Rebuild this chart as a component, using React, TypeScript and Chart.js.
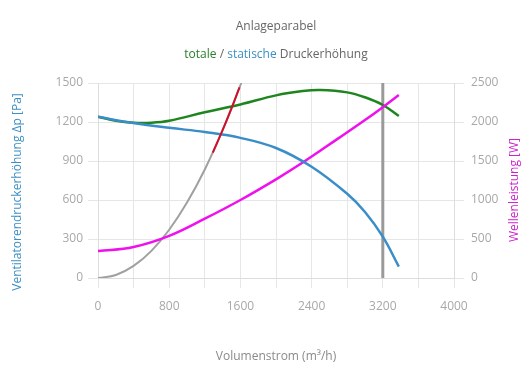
import React, { useEffect, useRef } from "react";
import { Chart, registerables } from "chart.js";

Chart.register(...registerables);

const titleText = "Anlageparabel";
const subtitleParts = [
  { text: "totale", color: "#2a7d2a" },
  { text: " / ", color: "#666666" },
  { text: "statische", color: "#3d8fc4" },
  { text: " Druckerhöhung", color: "#666666" },
];
const xTitle = "Volumenstrom (m³/h)";
const yTitle = "Ventilatorendruckerhöhung Δp [Pa]";
const y2Title = "Wellenleistung [W]";

const staticQ = [0, 400, 800, 1200, 1600, 2000, 2400, 2800, 3000, 3200, 3380];
const staticP = [1240, 1192, 1155, 1123, 1078, 1000, 856, 648, 508, 318, 88];

const totalQ = [0, 200, 400, 600, 800, 1200, 1600, 2000, 2300, 2500, 2800, 3000, 3200, 3380];
const totalP = [1240, 1210, 1195, 1195, 1210, 1275, 1335, 1405, 1438, 1446, 1428, 1390, 1331, 1246];

const powerQ = [0, 400, 800, 1200, 1600, 2000, 2300, 2700, 3000, 3200, 3380];
const powerW = [345, 398, 540, 760, 1000, 1265, 1480, 1790, 2025, 2190, 2346];

const systemQ = [0, 200, 400, 600, 800, 1000, 1200, 1400, 1610];
const systemP = [0, 23, 93, 209, 371, 580, 835, 1137, 1500];

const operatingQ = [1290, 1400, 1500, 1590];
const operatingP = [965, 1137, 1305, 1466];

const markerQ = [3200, 3200];
const markerP = [0, 1500];

const zip = (xs: number[], ys: number[]) => xs.map((x, i) => ({ x, y: ys[i] }));

const FONT = "'Open Sans', 'Noto Sans', sans-serif";

const textPlugin = {
  id: "customText",
  afterDraw(chart: any) {
    const { ctx, chartArea } = chart;
    const cx = (chartArea.left + chartArea.right) / 2;
    ctx.save();
    ctx.font = `12px ${FONT}`;
    ctx.textBaseline = "middle";
    ctx.textAlign = "center";
    ctx.fillStyle = "#666666";
    ctx.fillText(titleText, cx, 19);

    ctx.textAlign = "left";
    const widths = subtitleParts.map((p) => ctx.measureText(p.text).width);
    const total = widths.reduce((a, b) => a + b, 0);
    let x = cx - total / 2;
    subtitleParts.forEach((p, i) => {
      ctx.fillStyle = p.color;
      ctx.fillText(p.text, x, 47);
      x += widths[i];
    });

    ctx.textAlign = "center";
    ctx.fillStyle = "#8a8a8a";
    ctx.fillText(xTitle, cx, 349);

    ctx.save();
    ctx.translate(10, 184);
    ctx.rotate(-Math.PI / 2);
    ctx.fillStyle = "#3d8fc4";
    ctx.fillText(yTitle, 0, 0);
    ctx.restore();

    ctx.save();
    ctx.translate(507, 182);
    ctx.rotate(-Math.PI / 2);
    ctx.fillStyle = "#cc22cc";
    ctx.fillText(y2Title, 0, 0);
    ctx.restore();

    ctx.restore();
  },
};

export default function App() {
  const ref = useRef<HTMLCanvasElement | null>(null);

  useEffect(() => {
    if (!ref.current) return;
    const gridColor = "#e6e6e6";
    const tickFont = { family: FONT, size: 12 };
    const tickColor = "#a8a8a8";
    const chart = new Chart(ref.current, {
      type: "line",
      data: {
        datasets: [
          {
            label: "marker",
            data: zip(markerQ, markerP),
            borderColor: "#9a9a9a",
            borderWidth: 3,
            pointRadius: 0,
            yAxisID: "y",
            order: 6,
          },
          {
            label: "system",
            data: zip(systemQ, systemP),
            borderColor: "#a0a0a0",
            borderWidth: 2,
            pointRadius: 0,
            tension: 0.4,
            yAxisID: "y",
            order: 5,
          },
          {
            label: "operating",
            data: zip(operatingQ, operatingP),
            borderColor: "#d0102a",
            borderWidth: 2,
            pointRadius: 0,
            tension: 0.4,
            yAxisID: "y",
            order: 1,
          },
          {
            label: "total",
            data: zip(totalQ, totalP),
            borderColor: "#1f861f",
            borderWidth: 2.5,
            pointRadius: 0,
            tension: 0.4,
            yAxisID: "y",
            order: 3,
          },
          {
            label: "static",
            data: zip(staticQ, staticP),
            borderColor: "#3a8ec8",
            borderWidth: 2.5,
            pointRadius: 0,
            tension: 0.4,
            yAxisID: "y",
            order: 2,
          },
          {
            label: "power",
            data: zip(powerQ, powerW),
            borderColor: "#ee11ee",
            borderWidth: 2.5,
            pointRadius: 0,
            tension: 0.4,
            yAxisID: "y2",
            order: 2,
          },
        ],
      },
      options: {
        animation: false,
        responsive: false,
        layout: { padding: { top: 75, left: 0, right: 0, bottom: 0 } },
        plugins: {
          legend: { display: false },
          title: { display: false },
          tooltip: { enabled: false },
        },
        scales: {
          x: {
            type: "linear",
            min: 0,
            max: 4000,
            ticks: {
              stepSize: 400,
              autoSkip: false,
              maxRotation: 0,
              color: tickColor,
              font: tickFont,
              padding: 11,
              callback: (v: any) => (Number(v) % 800 === 0 ? String(v) : ""),
            },
            grid: { color: gridColor, tickLength: 10 },
            border: { color: "#dddddd" },
            afterFit: (s: any) => {
              s.height = 104;
            },
          },
          y: {
            type: "linear",
            position: "left",
            min: 0,
            max: 1500,
            ticks: {
              stepSize: 300,
              color: tickColor,
              font: tickFont,
              padding: 5,
              callback: (v: any) => String(v),
            },
            grid: { color: gridColor, tickLength: 10 },
            border: { color: "#dddddd" },
            afterFit: (s: any) => {
              s.width = 90;
            },
          },
          y2: {
            type: "linear",
            position: "right",
            min: 0,
            max: 2500,
            ticks: {
              stepSize: 500,
              color: tickColor,
              font: tickFont,
              padding: 7,
              callback: (v: any) => String(v),
            },
            grid: { color: gridColor, tickLength: 10, drawOnChartArea: false },
            border: { color: "#dddddd" },
            afterFit: (s: any) => {
              s.width = 68;
            },
          },
        },
      } as any,
      plugins: [textPlugin],
    });
    return () => chart.destroy();
  }, []);

  return (
    <div style={{ width: 514, height: 374 }}>
      <canvas ref={ref} width={514} height={374} />
    </div>
  );
}
